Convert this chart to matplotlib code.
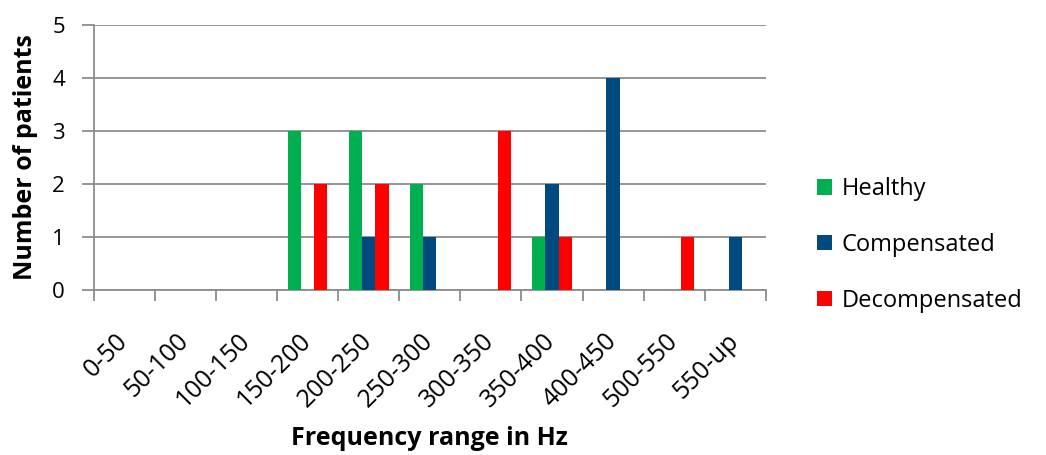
import numpy as np
import matplotlib.pyplot as plt

# Counts per frequency band
categories = ['0-50', '50-100', '100-150', '150-200', '200-250', '250-300',
              '300-350', '350-400', '400-450', '500-550', '550-up']
healthy = [0, 0, 0, 3, 3, 2, 0, 1, 0, 0, 0]
compensated = [0, 0, 0, 0, 1, 1, 0, 2, 4, 0, 1]
decompensated = [0, 0, 0, 2, 2, 0, 3, 1, 0, 1, 0]

plt.rcParams['font.family'] = ['Open Sans', 'DejaVu Sans']

fig = plt.figure(figsize=(10.46, 4.55), dpi=100)
ax = fig.add_axes([0.090, 0.363, 0.642, 0.582])

x = np.arange(len(categories))
w = 0.215
ax.bar(x - w, healthy, w, color='#00B050', label='Healthy', zorder=3)
ax.bar(x, compensated, w, color='#004A80', label='Compensated', zorder=3)
ax.bar(x + w, decompensated, w, color='#FF0000', label='Decompensated', zorder=3)

ax.set_xlim(-0.5, len(categories) - 0.5)
ax.set_ylim(0, 5)
ax.set_yticks(range(6))
ax.yaxis.grid(True, color='#8c8c8c', linewidth=1.3, zorder=0)

# ticks at category boundaries, labels (nudged a little left) at centres
ax.set_xticks(np.arange(len(categories) + 1) - 0.5)
ax.set_xticklabels([])
ax.set_xticks(x - 0.15, minor=True)
ax.set_xticklabels(categories, minor=True, rotation=45, ha='right',
                   rotation_mode='anchor', fontsize=18)
ax.tick_params(axis='x', which='minor', length=0, pad=28)
ax.tick_params(axis='x', which='major', length=8, color='#8c8c8c', width=1.3)
ax.tick_params(axis='y', length=9, color='#8c8c8c', width=1.3, labelsize=16, pad=12)

for s in ['top', 'right']:
    ax.spines[s].set_visible(False)
for s in ['left', 'bottom']:
    ax.spines[s].set_color('#8c8c8c')
    ax.spines[s].set_linewidth(1.3)

ax.set_ylabel('Number of patients', fontsize=18, fontweight='bold', labelpad=10)
ax.set_xlabel('Frequency range in Hz', fontsize=18, fontweight='bold')
ax.xaxis.set_label_coords(0.5, -0.515)

ax.legend(loc='center left', bbox_to_anchor=(1.045, 0.17), frameon=False,
          fontsize=17, handlelength=0.65, handleheight=0.65, handletextpad=0.4,
          labelspacing=1.35)

fig.savefig('out.png', dpi=100)
